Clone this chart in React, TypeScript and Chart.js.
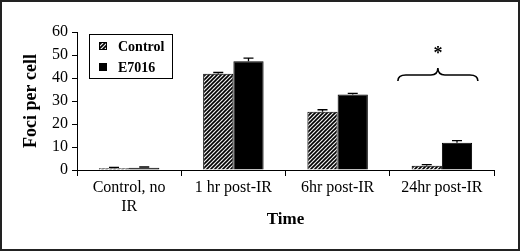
import React, { useEffect, useRef } from "react";
import { Chart, registerables } from "chart.js";

Chart.register(...registerables);

const categories: (string | string[])[] = [["Control, no", "IR"], "1 hr post-IR", "6hr post-IR", "24hr post-IR"];
const controlValues = [0.8, 41.8, 25.3, 1.8];
const controlErrors = [0.3, 0.6, 0.9, 0.5];
const e7016Values = [1.0, 47.3, 32.8, 11.9];
const e7016Errors = [0.3, 1.3, 0.5, 0.9];
const seriesNames = ["Control", "E7016"];
const yTicks = [0, 10, 20, 30, 40, 50, 60];

const SERIF = "'Liberation Serif', 'Times New Roman', serif";

function makeHatch(): CanvasPattern | string {
  const c = document.createElement("canvas");
  c.width = 4;
  c.height = 4;
  const g = c.getContext("2d");
  if (!g) return "#555";
  g.fillStyle = "#eee";
  g.fillRect(0, 0, 4, 4);
  g.strokeStyle = "#000";
  g.lineWidth = 1.6;
  g.beginPath();
  g.moveTo(-1, 5);
  g.lineTo(5, -1);
  g.moveTo(-1, 1);
  g.lineTo(1, -1);
  g.moveTo(3, 5);
  g.lineTo(5, 3);
  g.stroke();
  const p = g.createPattern(c, "repeat");
  return p || "#555";
}

export default function App() {
  const ref = useRef<HTMLCanvasElement | null>(null);

  useEffect(() => {
    document.body.style.margin = "0";
    const canvas = ref.current;
    if (!canvas) return;
    const hatch = makeHatch();
    const errors = [controlErrors, e7016Errors];

    const errorBars = {
      id: "errorBars",
      afterDatasetsDraw(chart: any) {
        const ctx = chart.ctx;
        const y = chart.scales.y;
        ctx.save();
        ctx.strokeStyle = "#000";
        ctx.lineWidth = 1.3;
        chart.data.datasets.forEach((ds: any, di: number) => {
          const meta = chart.getDatasetMeta(di);
          meta.data.forEach((bar: any, i: number) => {
            const v = ds.data[i] as number;
            const top = y.getPixelForValue(v + errors[di][i]);
            const base = y.getPixelForValue(v);
            ctx.beginPath();
            ctx.moveTo(bar.x, base);
            ctx.lineTo(bar.x, top);
            ctx.moveTo(bar.x - 5, top);
            ctx.lineTo(bar.x + 5, top);
            ctx.stroke();
          });
        });
        ctx.restore();
      },
    };

    const decorations = {
      id: "decorations",
      afterDraw(chart: any) {
        const ctx = chart.ctx;
        const xs = chart.scales.x;
        const ys = chart.scales.y;
        const area = chart.chartArea;
        ctx.save();
        // legend box
        const lx = area.left + 12;
        const ly = area.top + 2;
        ctx.strokeStyle = "#000";
        ctx.lineWidth = 1;
        ctx.strokeRect(lx + 0.5, ly + 0.5, 83, 44);
        const rows = [
          { fill: hatch, y: ly + 12 },
          { fill: "#000", y: ly + 33 },
        ];
        ctx.font = `bold 14px ${SERIF}`;
        ctx.textBaseline = "middle";
        ctx.textAlign = "left";
        rows.forEach((r, i) => {
          ctx.fillStyle = r.fill as any;
          ctx.fillRect(lx + 10, r.y - 4, 8, 8);
          ctx.strokeStyle = "#000";
          ctx.strokeRect(lx + 10.5, r.y - 3.5, 7, 7);
          ctx.fillStyle = "#000";
          ctx.fillText(seriesNames[i], lx + 29, r.y + 1);
        });
        // brace over the 24hr group
        const cx = xs.getPixelForValue(3) - 4;
        const half = 40;
        const yEnd = ys.getPixelForValue(38.7);
        const yLine = ys.getPixelForValue(41.3);
        const yPeak = ys.getPixelForValue(44.3);
        ctx.lineWidth = 1.6;
        ctx.beginPath();
        ctx.moveTo(cx - half, yEnd);
        ctx.quadraticCurveTo(cx - half, yLine, cx - half + 8, yLine);
        ctx.lineTo(cx - 7, yLine);
        ctx.quadraticCurveTo(cx, yLine, cx, yPeak);
        ctx.quadraticCurveTo(cx, yLine, cx + 7, yLine);
        ctx.lineTo(cx + half - 8, yLine);
        ctx.quadraticCurveTo(cx + half, yLine, cx + half, yEnd);
        ctx.stroke();
        ctx.font = `bold 18px ${SERIF}`;
        ctx.textAlign = "center";
        ctx.fillText("*", cx, ys.getPixelForValue(50.5));
        // outer frame
        ctx.lineWidth = 2;
        ctx.strokeStyle = "#222";
        ctx.strokeRect(1, 1, chart.width - 2, chart.height - 2);
        ctx.restore();
      },
    };

    const chart = new Chart(canvas, {
      type: "bar",
      data: {
        labels: categories as any,
        datasets: [
          {
            label: seriesNames[0],
            data: controlValues,
            backgroundColor: hatch as any,
            borderColor: "#000",
            borderWidth: 1,
            categoryPercentage: 0.58,
            barPercentage: 1,
          },
          {
            label: seriesNames[1],
            data: e7016Values,
            backgroundColor: "#000",
            borderColor: "#000",
            borderWidth: 1,
            categoryPercentage: 0.58,
            barPercentage: 1,
          },
        ],
      },
      options: {
        animation: false,
        responsive: false,
        maintainAspectRatio: false,
        layout: { padding: { left: 0, right: 26, top: 32, bottom: 0 } },
        plugins: { legend: { display: false }, tooltip: { enabled: false } },
        scales: {
          x: {
            afterFit(scale: any) {
              scale.height = 81;
            },
            grid: { drawOnChartArea: false, drawTicks: true, tickLength: 6, color: "#000", offset: true },
            border: { color: "#000", width: 1 },
            ticks: {
              color: "#000",
              padding: 2,
              maxRotation: 0,
              autoSkip: false,
              font: { family: SERIF, size: 16 },
            },
            title: {
              display: true,
              text: "Time",
              color: "#000",
              font: { family: SERIF, size: 17, weight: "bold" },
              padding: { top: 0, bottom: 21 },
            },
          },
          y: {
            min: 0,
            max: 60,
            afterFit(scale: any) {
              scale.width = 77;
            },
            afterBuildTicks(scale: any) {
              scale.ticks = yTicks.map((v) => ({ value: v }));
            },
            grid: { drawOnChartArea: false, drawTicks: true, tickLength: 5, color: "#000" },
            border: { color: "#000", width: 1 },
            ticks: {
              color: "#000",
              padding: 4,
              font: { family: SERIF, size: 16 },
            },
            title: {
              display: true,
              text: "Foci per cell",
              color: "#000",
              font: { family: SERIF, size: 18, weight: "bold" },
              padding: { top: 21, bottom: 0 },
            },
          },
        },
      },
      plugins: [errorBars, decorations],
    });
    return () => chart.destroy();
  }, []);

  return (
    <div style={{ width: 520, height: 251, background: "#fff" }}>
      <canvas ref={ref} width={520} height={251} style={{ display: "block" }} />
    </div>
  );
}
